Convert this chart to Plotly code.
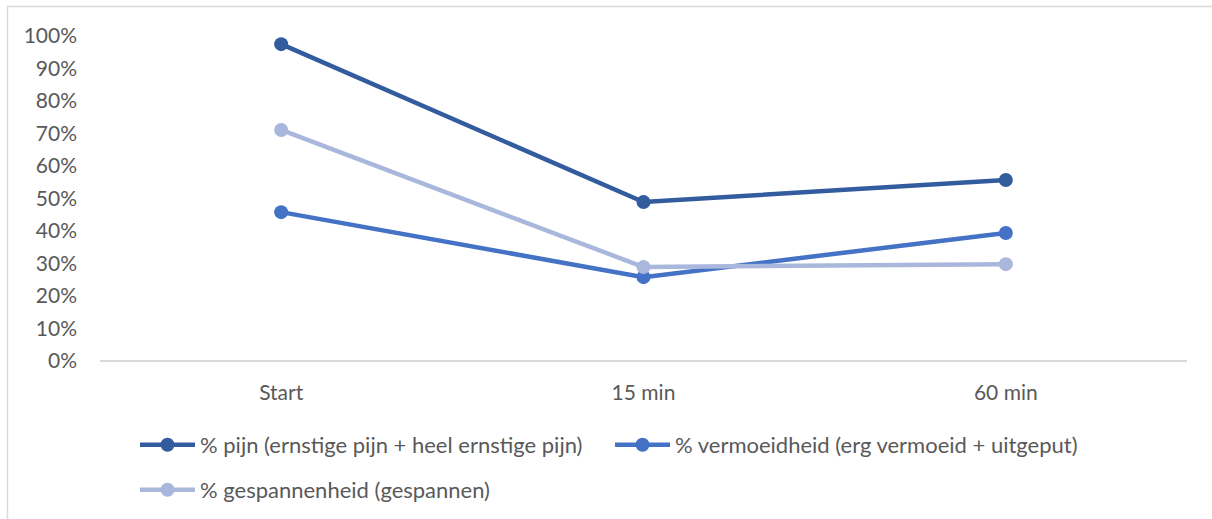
import plotly.graph_objects as go

categories = ["Start", "15 min", "60 min"]
pijn = [0.975, 0.489, 0.557]
vermoeidheid = [0.458, 0.258, 0.394]
gespannenheid = [0.711, 0.289, 0.298]

series_names = [
    "% pijn (ernstige pijn + heel ernstige pijn)",
    "% vermoeidheid (erg vermoeid + uitgeput)",
    "% gespannenheid (gespannen)",
]
y_ticks = [i / 10 for i in range(11)]
y_tick_text = [f"{i * 10}%" for i in range(11)]

colors = ["#335C9F", "#4472C4", "#A9B7DC"]
FONT = "Lato"
TEXT = "#595959"

W, H = 1212, 519
ML, MR, MT, MB = 100, 25, 36, 158

fig = go.Figure()
for name, vals, col, leg in zip(series_names, [pijn, vermoeidheid, gespannenheid],
                                colors, ["legend", "legend", "legend2"]):
    fig.add_trace(go.Scatter(
        x=categories, y=vals, name=name, mode="lines+markers",
        line=dict(color=col, width=4.5),
        marker=dict(color=col, size=14),
        legend=leg,
    ))

legend_common = dict(
    orientation="h", xref="container", yref="container",
    xanchor="left", yanchor="middle",
    font=dict(family=FONT, size=22, color=TEXT),
    itemwidth=55, entrywidth=405, entrywidthmode="pixels",
    bgcolor="rgba(0,0,0,0)", borderwidth=0,
)

fig.update_layout(
    width=W, height=H,
    margin=dict(l=ML, r=MR, t=MT, b=MB),
    paper_bgcolor="white", plot_bgcolor="white",
    font=dict(family=FONT, size=21, color=TEXT),
    showlegend=True,
    legend=dict(legend_common, x=135 / W, y=1 - 445 / H),
    legend2=dict(legend_common, x=135 / W, y=1 - 490 / H),
    xaxis=dict(
        type="category", range=[-0.5, 2.5],
        showgrid=False, zeroline=False, showline=False,
        ticks="", ticklabelstandoff=17,
        tickfont=dict(family=FONT, size=21, color=TEXT),
    ),
    yaxis=dict(
        range=[0, 1], tickvals=y_ticks, ticktext=y_tick_text,
        showgrid=False, zeroline=True, zerolinecolor="#D9D9D9", zerolinewidth=1.5,
        showline=False, ticks="", ticklabelstandoff=22,
        tickfont=dict(family=FONT, size=21, color=TEXT),
    ),
)

# chart frame (its right and bottom edges fall outside the page)
pw = W - ML - MR
ph = H - MT - MB
fig.add_shape(
    type="rect", xref="paper", yref="paper",
    x0=(7.5 - ML) / pw, x1=(W + 20 - ML) / pw,
    y0=(H - (H + 20) - MB) / ph, y1=(H - 6.5 - MB) / ph,
    line=dict(color="#D9D9D9", width=1.5), fillcolor="rgba(0,0,0,0)",
    layer="below",
)

fig.write_html("out.html")
